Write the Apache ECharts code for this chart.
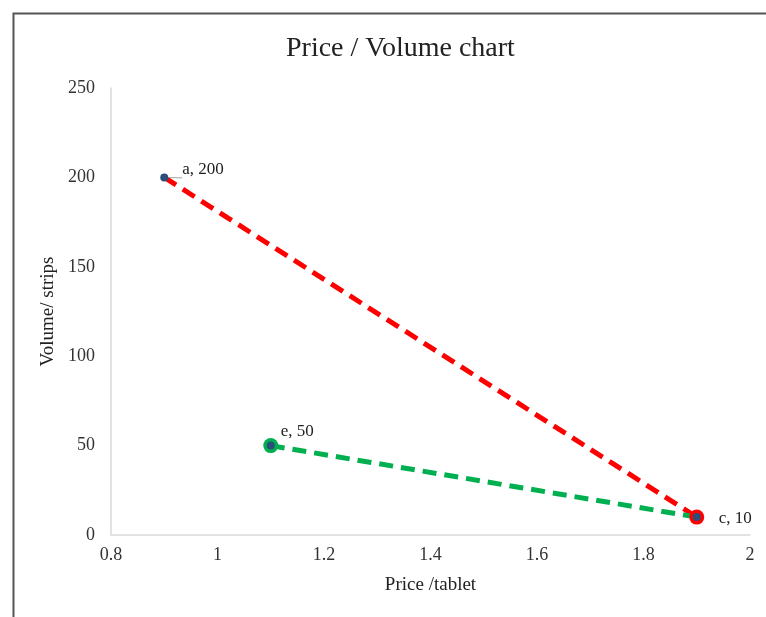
<!DOCTYPE html>
<html>
<head>
<meta charset="utf-8">
<script src="https://cdn.jsdelivr.net/npm/echarts@6/dist/echarts.min.js"></script>
<style>
  html, body { margin: 0; padding: 0; background: #fff; }
  #chart { width: 766px; height: 617px; }
</style>
</head>
<body>
<div id="chart"></div>
<script>
  const pointNames = ["a", "e", "c"];
  const prices = [0.9, 1.1, 1.9];
  const volumes = [200, 50, 10];
  const redPath = [0, 2];   // a -> c
  const greenPath = [1, 2]; // e -> c

  const pt = (i) => [prices[i], volumes[i]];
  const serif = "'Liberation Serif', 'Times New Roman', serif";

  const chart = echarts.init(document.getElementById("chart"));

  chart.setOption({
    backgroundColor: "#fff",
    animation: false,
    title: {
      text: "Price / Volume chart",
      left: 281,
      top: 30,
      textStyle: { fontFamily: serif, fontSize: 28, fontWeight: "normal", color: "#222" },
    },
    graphic: [
      {
        type: "rect",
        shape: { x: 13.5, y: 13.5, width: 800, height: 700 },
        style: { fill: "none", stroke: "#555", lineWidth: 2 },
        silent: true,
      },
    ],
    grid: { left: 111, right: 16, top: 88, bottom: 82 },
    xAxis: {
      type: "value",
      min: 0.8,
      max: 2,
      interval: 0.2,
      name: "Price /tablet",
      nameLocation: "middle",
      nameGap: 41,
      nameTextStyle: { fontFamily: serif, fontSize: 19, color: "#222" },
      axisLine: { show: true, lineStyle: { color: "#d9d9d9", width: 1.5 } },
      axisTick: { show: false },
      splitLine: { show: false },
      axisLabel: { fontFamily: serif, fontSize: 18, color: "#333", margin: 11 },
    },
    yAxis: {
      type: "value",
      min: 0,
      max: 250,
      interval: 50,
      name: "Volume/ strips",
      nameLocation: "middle",
      nameGap: 52,
      nameTextStyle: { fontFamily: serif, fontSize: 19, color: "#222" },
      axisLine: { show: true, lineStyle: { color: "#d9d9d9", width: 1.5 } },
      axisTick: { show: false },
      splitLine: { show: false },
      axisLabel: { fontFamily: serif, fontSize: 18, color: "#333", margin: 16 },
    },
    series: [
      {
        name: "red",
        type: "line",
        data: redPath.map(pt),
        showSymbol: false,
        lineStyle: { color: "#ff0000", width: 5, type: [14, 8] },
        z: 2,
      },
      {
        name: "green",
        type: "line",
        data: greenPath.map(pt),
        showSymbol: false,
        lineStyle: { color: "#00b050", width: 5, type: [14, 8] },
        z: 2,
      },
      {
        name: "redMarker",
        type: "scatter",
        data: [pt(2)],
        symbolSize: 15,
        itemStyle: { color: "#ff0000", opacity: 1 },
        z: 3,
      },
      {
        name: "greenMarker",
        type: "scatter",
        data: [pt(1)],
        symbolSize: 15,
        itemStyle: { color: "#00b050", opacity: 1 },
        z: 3,
      },
      {
        name: "points",
        type: "scatter",
        symbolSize: 8,
        itemStyle: { color: "#2b4f7a", opacity: 1 },
        z: 4,
        data: pointNames.map((n, i) => {
          const item = { name: n, value: pt(i) };
          if (n === "a") {
            item.label = { position: "right", offset: [9, -8] };
            item.labelLine = { show: true, lineStyle: { color: "#a6a6a6", width: 1 } };
          } else if (n === "e") {
            item.label = { position: "right", offset: [1, -14] };
          } else {
            item.label = { position: "right", offset: [13, 1] };
          }
          return item;
        }),
        label: {
          show: true,
          fontFamily: serif,
          fontSize: 17,
          color: "#222",
          formatter: (p) => p.name + ", " + p.value[1],
        },
      },
    ],
  });
</script>
</body>
</html>
